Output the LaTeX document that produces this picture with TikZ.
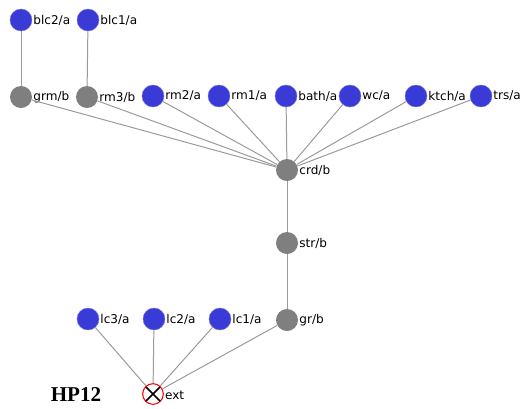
\documentclass[tikz,border=0pt]{standalone}
\usepackage{fontspec}
\setmainfont{Liberation Serif}
\newfontfamily\lblfont{DejaVu Sans}
\usepackage{tikz}

\definecolor{roomblue}{HTML}{3A3AD6}
\definecolor{linkgrey}{HTML}{7F7F7F}
\definecolor{edgegrey}{HTML}{9A9A9A}

\begin{document}
\begin{tikzpicture}[x=0.03cm, y=-0.03cm,
	tag/.style = {label distance=0pt, inner sep=0.8pt, font=\lblfont\fontsize{10.3}{12}\selectfont},
	room/.style = {circle, fill=roomblue, draw=roomblue!70, minimum size=0.66cm, inner sep=0pt,
		label={[tag]right:#1}},
	link/.style = {circle, fill=linkgrey, minimum size=0.66cm, inner sep=0pt,
		label={[tag]right:#1}},
	edge/.style = {draw=edgegrey, line width=0.85pt}]
	\useasboundingbox (0,0) rectangle (531,408);

	% top row
	\node[room=blc2/a] (blc2) at (21,20) {};
	\node[room=blc1/a] (blc1) at (88,20) {};

	% second row
	\node[link=grm/b] (grm) at (21,97) {};
	\node[link=rm3/b] (rm3) at (87,97) {};
	\node[room=rm2/a] (rm2) at (153,96) {};
	\node[room=rm1/a] (rm1) at (219,96) {};
	\node[room=bath/a] (bath) at (286,96) {};
	\node[room=wc/a] (wc) at (350,96) {};
	\node[room=ktch/a] (ktch) at (416,96) {};
	\node[room=trs/a] (trs) at (481,96) {};

	% spine
	\node[link=crd/b] (crd) at (287,170) {};
	\node[link=str/b] (str) at (287,243) {};
	\node[link=gr/b] (gr) at (287,320) {};

	% bottom row
	\node[room=lc3/a] (lc3) at (88,319) {};
	\node[room=lc2/a] (lc2) at (154,319) {};
	\node[room=lc1/a] (lc1) at (220,319) {};

	% exit
	\node[circle, draw=red, fill=white, line width=0.9pt, minimum size=0.62cm, inner sep=0pt,
		label={[tag, yshift=-1pt]right:ext}] (ext) at (153,394) {};
	\draw[line width=1.4pt] ([shift={(-7,-7)}]ext.center) -- ([shift={(7,7)}]ext.center)
		([shift={(-7,7)}]ext.center) -- ([shift={(7,-7)}]ext.center);

	\node[font=\bfseries\fontsize{18}{21}\selectfont] (hp) at (76,395) {HP12};

	\draw[edge] (blc2) -- (grm);
	\draw[edge] (blc1) -- (rm3);
	\foreach \n in {grm, rm3, rm2, rm1, bath, wc, ktch, trs}
		\draw[edge] (\n) -- (crd);
	\draw[edge] (crd) -- (str);
	\draw[edge] (str) -- (gr);
	\foreach \n in {lc3, lc2, lc1, gr}
		\draw[edge] (\n) -- (ext);
\end{tikzpicture}
\end{document}
